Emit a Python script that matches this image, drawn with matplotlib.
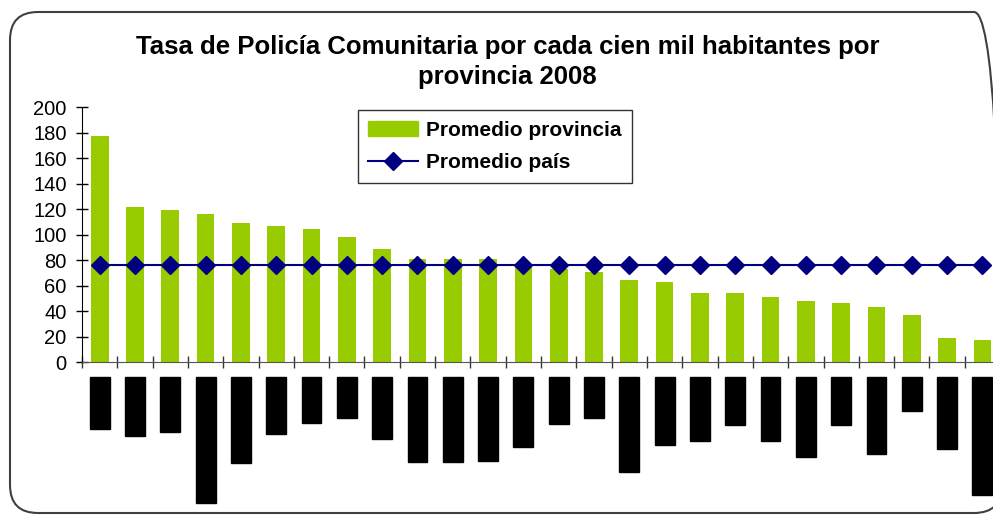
import matplotlib.pyplot as plt
from matplotlib.patches import FancyBboxPatch
from matplotlib.lines import Line2D
from matplotlib.patches import Patch

plt.rcParams['font.family'] = ['Liberation Sans', 'DejaVu Sans']

# etiquetas de provincia (ocultas / tachadas en el original)
provincias = ['Bolívar', 'Pastaza', 'Manabí', 'Zamora Chinchipe', 'Santa Elena',
              'Guayas', 'Cañar', 'Napo', 'Orellana', 'Tungurahua', 'Chimborazo',
              'Esmeraldas', 'Pichincha', 'Azuay', 'Quito', 'Sto. Domingo',
              'Imbabura', 'Cotopaxi', 'Carchi', 'Los Ríos', 'Sucumbíos', 'El Oro',
              'Galápagos', 'Loja', 'Guayaquil', 'Morona Santiago']
promedio_provincia = [177, 122, 119, 116, 109, 107, 104, 98, 89, 81, 81, 81, 76,
                      73, 71, 64, 63, 54, 54, 51, 48, 46, 43, 37, 19, 17]
promedio_pais = [76] * len(provincias)

fig = plt.figure(figsize=(9.93, 5.15), dpi=100)

# marco redondeado del área del gráfico
marco = FancyBboxPatch((0.10, 0.02), 9.92, 5.01, boxstyle='round,pad=0,rounding_size=0.28',
                       transform=fig.dpi_scale_trans, facecolor='none',
                       edgecolor='#404040', linewidth=1.5, zorder=0)
fig.patches.append(marco)

ax = fig.add_axes([0.0826, 0.297, 0.9245, 0.495])
ax.patch.set_alpha(0)
x = list(range(len(provincias)))
ax.bar(x, promedio_provincia, width=0.5, color='#99CC00', zorder=2)
ax.plot(x, promedio_pais, color='#000080', linewidth=1.5, marker='D',
        markersize=9, zorder=3)

ax.set_xlim(-0.5, len(provincias) - 0.5)
ax.set_ylim(0, 200)
ax.set_yticks(range(0, 201, 20))
ax.tick_params(axis='y', direction='inout', length=8, width=1, labelsize=14.5, pad=7)

ax.set_xticks(x)
ax.set_xticklabels(provincias, rotation=90, fontsize=10.5, color='black')
ax.set_xticks([i - 0.5 for i in range(len(provincias) + 1)], minor=True)
ax.tick_params(axis='x', which='major', length=0, pad=13)
ax.tick_params(axis='x', which='minor', direction='inout', length=8, width=1, color='#333333')
for lbl in ax.get_xticklabels():
    lbl.set_bbox(dict(boxstyle='square,pad=0.2', facecolor='black', edgecolor='black'))

for s in ['top', 'right']:
    ax.spines[s].set_visible(False)
ax.spines['bottom'].set_color('#555555')
ax.spines['left'].set_color('black')

fig.text(0.511, 0.880, 'Tasa de Policía Comunitaria por cada cien mil habitantes por\nprovincia 2008',
         ha='center', va='center', fontsize=18.5, fontweight='bold', linespacing=1.3)

handles = [Patch(color='#99CC00'),
           Line2D([], [], color='#000080', marker='D', markersize=9, linewidth=1.5)]
leg = ax.legend(handles, ['Promedio provincia', 'Promedio país'], loc='upper left',
                bbox_to_anchor=(0.3007, 0.988), borderaxespad=0, frameon=True, fancybox=False,
                prop={'size': 15, 'weight': 'bold'}, handlelength=2.4,
                borderpad=0.5, labelspacing=0.65, handletextpad=0.35)
leg.get_frame().set_edgecolor('black')
leg.get_frame().set_linewidth(1)

fig.savefig('out.png', dpi=100)
